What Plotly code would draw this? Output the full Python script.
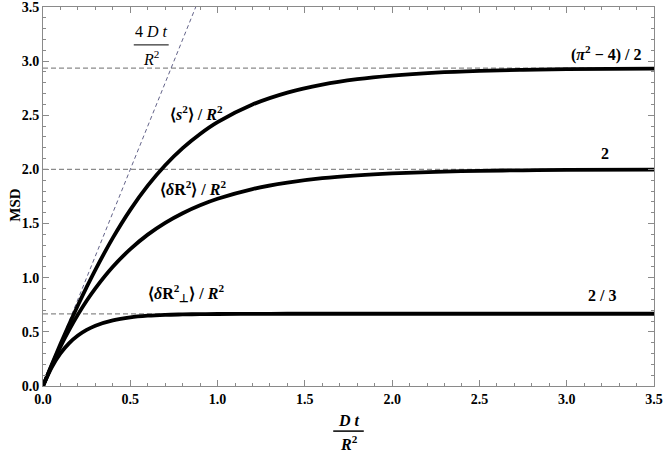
import plotly.graph_objects as go

# dimensionless time D t / R^2
tau = [0.0, 0.05, 0.1, 0.15, 0.2, 0.25, 0.3, 0.4, 0.5, 0.6, 0.7, 0.8, 0.9, 1.0,
       1.2, 1.4, 1.6, 1.8, 2.0, 2.25, 2.5, 2.75, 3.0, 3.5]

# <s^2>/R^2
msd_s = [0.0, 0.197, 0.387, 0.570, 0.745, 0.913, 1.073, 1.368, 1.627, 1.850, 2.039,
         2.197, 2.328, 2.437, 2.600, 2.710, 2.784, 2.834, 2.867, 2.894, 2.910, 2.920,
         2.926, 2.931]

# <dR^2>/R^2
msd_r = [0.0, 0.190, 0.363, 0.518, 0.659, 0.787, 0.902, 1.101, 1.264, 1.398, 1.507,
         1.596, 1.669, 1.729, 1.819, 1.878, 1.919, 1.945, 1.963, 1.978, 1.987, 1.992,
         1.995, 1.998]

# <dR_perp^2>/R^2
msd_perp = [0.0, 0.173, 0.301, 0.396, 0.466, 0.518, 0.557, 0.606, 0.634, 0.649, 0.657,
            0.661, 0.664, 0.665, 0.666, 0.667, 0.667, 0.667, 0.667, 0.667, 0.667, 0.667,
            0.667, 0.667]

# free diffusion 4Dt/R^2
free_x = [0.0, 0.875]
free_y = [0.0, 3.5]

plateaus = [2.9348, 2.0, 0.6667]

serif = "Liberation Serif"
gray = "#8a8a8a"

fig = go.Figure()

for p in plateaus:
    fig.add_trace(go.Scatter(x=[0, 3.5], y=[p, p], mode="lines",
                             line=dict(color=gray, width=1.2, dash="5px,3px"),
                             hoverinfo="skip"))

fig.add_trace(go.Scatter(x=free_x, y=free_y, mode="lines",
                         line=dict(color="#3a3a6a", width=0.8, dash="4px,3px")))

for ys in [msd_s, msd_r, msd_perp]:
    fig.add_trace(go.Scatter(x=tau, y=ys, mode="lines", line_shape="spline",
                             line=dict(color="black", width=3.8)))

lab = dict(family=serif, size=16, color="black")
notes = [
    (0.62, 3.27, "4 <i>D t</i>"),
    (0.62, 3.03, "<i>R</i><sup>2</sup>"),
    (0.88, 2.52, "<b>⟨<i>s</i><sup>2</sup>⟩ / <i>R</i><sup>2</sup></b>"),
    (0.86, 1.83, "<b>⟨<i>δ</i>R<sup>2</sup>⟩ / <i>R</i><sup>2</sup></b>"),
    (0.82, 0.86, "<b>⟨<i>δ</i>R<sup>2</sup><sub>⊥</sub>⟩ / <i>R</i><sup>2</sup></b>"),
    (3.23, 3.07, "<b>(<i>π</i><sup>2</sup> − 4) / 2</b>"),
    (3.22, 2.15, "<b>2</b>"),
    (3.20, 0.84, "<b>2 / 3</b>"),
]
for x, y, t in notes:
    fig.add_annotation(x=x, y=y, text=t, showarrow=False, font=lab,
                       xanchor="center", yanchor="middle")

# fraction bar of 4Dt/R^2
fig.add_shape(type="line", x0=0.52, x1=0.72, y0=3.15, y1=3.15,
              line=dict(color="black", width=1))

# x axis label as a fraction
fig.add_annotation(xref="paper", yref="paper", x=0.5, y=-0.092,
                   xanchor="center", yanchor="middle",
                   text="<b><i>D t</i></b>", showarrow=False, font=lab)
fig.add_shape(type="line", xref="paper", yref="paper", x0=0.475, x1=0.525,
              y0=-0.119, y1=-0.119, line=dict(color="black", width=1.5))
fig.add_annotation(xref="paper", yref="paper", x=0.5, y=-0.15,
                   xanchor="center", yanchor="middle",
                   text="<b><i>R</i><sup>2</sup></b>", showarrow=False, font=lab)

fig.add_annotation(xref="paper", yref="paper", x=-0.046, y=0.478, textangle=-90,
                   xanchor="center", yanchor="middle",
                   text="<b>MSD</b>", showarrow=False,
                   font=dict(family=serif, size=15, color="black"))

ax = dict(range=[0, 3.5], dtick=0.5, tick0=0, tickformat=".1f", automargin=False,
          ticks="inside", ticklen=6, tickcolor=gray, tickwidth=1,
          showline=True, linecolor=gray, linewidth=1, mirror="ticks",
          showgrid=False, zeroline=False, ticklabeloverflow="allow",
          tickfont=dict(family=serif, size=14, color="black", weight="bold"),
          minor=dict(dtick=0.1, ticks="inside", ticklen=3, tickcolor=gray, showgrid=False))

fig.update_xaxes(**ax)
fig.update_yaxes(**ax)

fig.update_layout(width=665, height=454, showlegend=False,
                  margin=dict(l=43, r=11, t=7, b=68),
                  plot_bgcolor="white", paper_bgcolor="white")

# drop the default page margin so the figure sits at the window's corner
fig.write_html("out.html", config={"displayModeBar": False},
               post_script="document.body.style.margin='0';")
